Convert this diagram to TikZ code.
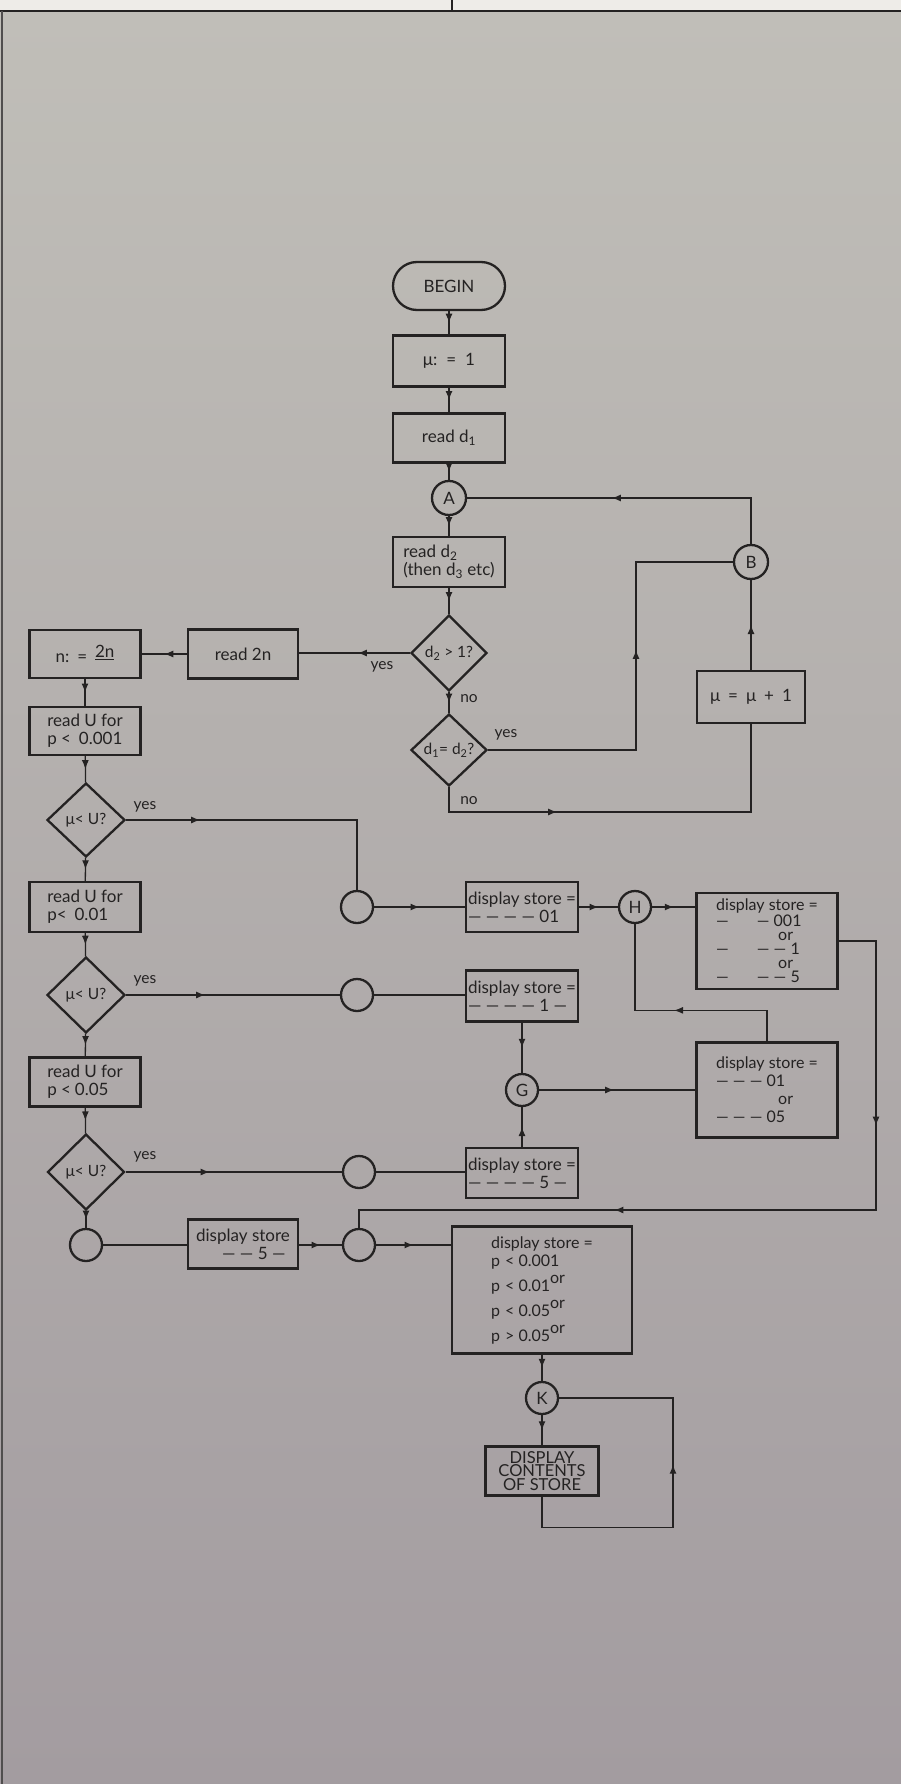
\documentclass[tikz,border=0pt]{standalone}
\usepackage{fontspec}
\setmainfont{Lato}
\usetikzlibrary{shapes.geometric,arrows.meta,decorations.markings}
\definecolor{ink}{RGB}{36,34,34}
\definecolor{bgtop}{RGB}{192,190,184}
\definecolor{bgbot}{RGB}{163,156,160}
\definecolor{paper}{RGB}{238,236,232}
\newcommand{\dsh}{—}
\begin{document}
\begin{tikzpicture}[x=1pt,y=-1pt,
  every node/.style={text=ink, font=\fontsize{17}{18}\selectfont},
  box/.style={draw=ink, line width=2.3pt, rectangle, inner sep=1.5pt},
  dia/.style={draw=ink, line width=2.3pt, diamond, aspect=1, inner sep=0pt, font=\fontsize{15.5}{16}\selectfont},
  conn/.style={draw=ink, line width=2.3pt, circle, inner sep=0pt, minimum size=32pt},
  wire/.style={ink, line width=1.3pt},
  marr/.style={postaction={decorate,decoration={markings,mark=at position #1 with {\arrow{Latex[length=9pt,width=7pt]}}}}},
  lbl/.style={font=\fontsize{15.5}{16}\selectfont, inner sep=0pt}
]
% background / frame
\useasboundingbox (0,0) rectangle (901,1784);
\fill[paper] (0,0) rectangle (901,11);
\shade[top color=bgtop, bottom color=bgbot] (0,11) rectangle (901,1784);
\draw[ink, line width=1.6pt] (0,11) -- (901,11);
\draw[ink!80, line width=1.2pt] (2,11) -- (2,1784);
\draw[ink, line width=1.2pt] (452,0) -- (452,11);

% main column
\node[box, rounded corners=24pt, minimum width=112pt, minimum height=48pt] (begin) at (449,286) {BEGIN};
\node[box, minimum width=112pt, minimum height=51pt] (mu1) at (449,361) {μ:\hspace{9pt}=\hspace{9pt}1};
\node[box, minimum width=112pt, minimum height=49pt] (rd1) at (449,438) {read d\textsubscript{1}};
\node[conn, minimum size=34pt] (A) at (449,498) {A};
\node[box, minimum width=112pt, minimum height=50pt, align=left] (rd2) at (449,562) {read d\textsubscript{2}\\(then d\textsubscript{3} etc)};
\node[dia, minimum width=76pt, minimum height=76pt] (dgt) at (449,653) {d\textsubscript{2} > 1?};
\node[dia, minimum width=76pt, minimum height=72pt] (deq) at (449,750) {d\textsubscript{1}= d\textsubscript{2}?};
\node[conn, minimum size=34pt] (B) at (751,562) {B};
\node[box, minimum width=108pt, minimum height=52pt] (muinc) at (751,697) {μ\hspace{8pt}=\hspace{8pt}μ\hspace{8pt}+\hspace{8pt}1};

% left column
\node[box, minimum width=110pt, minimum height=49pt] (r2n) at (243,654) {read 2n};
\node[box, minimum width=111pt, minimum height=48pt] (nb) at (85,654) {n:\hspace{8pt}=\hspace{8pt}\raisebox{5pt}{\underline{2n}}};
\node[box, minimum width=111pt, minimum height=48pt, align=left] (ru1) at (85,731) {read U for\\p <\hspace{8pt}0.001};
\node[dia, minimum width=78pt, minimum height=74pt] (m1) at (86,820) {μ< U?};
\node[box, minimum width=111pt, minimum height=50pt, align=left] (ru2) at (85,907) {read U for\\p<\hspace{8pt}0.01};
\node[dia, minimum width=78pt, minimum height=76pt] (m2) at (86,995) {μ< U?};
\node[box, minimum width=111pt, minimum height=49pt, align=left] (ru3) at (85,1082) {read U for\\p <\hspace{4pt}0.05};
\node[dia, minimum width=77pt, minimum height=76pt] (m3) at (86,1172) {μ< U?};
\node[conn] (c5) at (86,1245) {};
\node[box, minimum width=110pt, minimum height=49pt, align=left] (ds5b) at (243,1244) {display store\\\hspace*{26pt}\dsh\ \dsh\ 5 \dsh};
\node[conn] (c4) at (359,1245) {};
\node[conn] (c1) at (357,907) {};
\node[conn] (c2) at (357,995) {};
\node[conn] (c3) at (359,1172) {};

% middle column
\node[box, minimum width=112pt, minimum height=50pt, align=left] (ds01) at (522,907) {display store =\\\dsh\ \dsh\ \dsh\ \dsh\ 01};
\node[conn] (H) at (635,907) {H};
\node[box, minimum width=112pt, minimum height=51pt, align=left] (ds1) at (522,996) {display store =\\\dsh\ \dsh\ \dsh\ \dsh\ 1 \dsh};
\node[conn] (G) at (522,1090) {G};
\node[box, minimum width=112pt, minimum height=50pt, align=left] (ds5) at (522,1173) {display store =\\\dsh\ \dsh\ \dsh\ \dsh\ 5 \dsh};

% right column
\node[box, minimum width=141pt, minimum height=96pt, align=left, font=\fontsize{16}{14.2}\selectfont] (ds001) at (767,941)
  {display store =\\\dsh\hspace{28pt}\dsh\ 001\\\hspace{62pt}or\\\dsh\hspace{28pt}\dsh\ \dsh\ 1\\\hspace{62pt}or\\\dsh\hspace{28pt}\dsh\ \dsh\ 5};
\node[box, minimum width=141pt, minimum height=95pt, align=left, font=\fontsize{16}{18}\selectfont] (ds0105) at (767,1090)
  {display store =\\\dsh\ \dsh\ \dsh\ 01\\\hspace{62pt}or\\\dsh\ \dsh\ \dsh\ 05};

% bottom
\node[box, minimum width=180pt, minimum height=127pt, align=left, font=\fontsize{16}{17}\selectfont] (fin) at (542,1290)
  {display store =\\[1pt]p\hspace{5pt}< 0.001\\[5pt]p\hspace{5pt}< 0.01\raisebox{8pt}{or}\\[5pt]p\hspace{5pt}< 0.05\raisebox{8pt}{or}\\[5pt]p\hspace{5pt}> 0.05\raisebox{8pt}{or}};
\node[conn] (K) at (542,1398) {K};
\node[box, minimum width=113pt, minimum height=49pt, inner sep=1pt, align=center, font=\fontsize{16.5}{13.5}\selectfont] (dcs) at (542,1471) {DISPLAY\\CONTENTS\\OF STORE};

% corner coordinates
\coordinate (yc) at (636,562);
\coordinate (nc) at (751,812);
\coordinate (rc) at (876,1210);
\coordinate (kc) at (673,1398);

% connectors: main column
\draw[wire, marr=0.5] (begin) -- (mu1);
\draw[wire, marr=0.5] (mu1) -- (rd1);
\draw[wire, marr=0.5] (rd1) -- (A);
\draw[wire, marr=0.5] (A) -- (rd2);
\draw[wire, marr=0.5] (rd2) -- (dgt);
\draw[wire, marr=0.5] (dgt) -- (deq);
\draw[wire, marr=248pt] (deq.east) -| (yc) -- (B.west);
\draw[wire, marr=133pt] (deq.south) |- (nc) -- (muinc.south);
\draw[wire, marr=0.5] (muinc) -- (B);
\draw[wire, marr=185pt] (B.north) |- (A.east);

% connectors: left column
\draw[wire, marr=0.47] (dgt.west) -- (dgt.west -| r2n.east);
\draw[wire, marr=0.5] (r2n.west) -- (r2n.west -| nb.east);
\draw[wire, marr=0.5] (nb) -- (ru1);
\draw[wire, marr=0.5] (ru1) -- (m1);
\draw[wire, marr=0.5] (m1) -- (ru2);
\draw[wire, marr=0.5] (ru2) -- (m2);
\draw[wire, marr=0.5] (m2) -- (ru3);
\draw[wire, marr=0.5] (ru3) -- (m3);
\draw[wire, marr=0.5] (m3) -- (c5);
\draw[wire] (c5.east) -- (c5.east -| ds5b.west);
\draw[wire, marr=0.5] (ds5b.east |- c4.west) -- (c4.west);
\draw[wire, marr=0.5] (c4.east) -- (c4.east -| fin.west);

\draw[wire, marr=74pt] (m1.east) -| (c1.north);
\draw[wire, marr=0.5] (c1.east) -- (c1.east -| ds01.west);
\draw[wire, marr=79pt] (m2.east) -- (c2.west);
\draw[wire] (c2.east) -- (c2.east -| ds1.west);
\draw[wire, marr=84pt] (m3.east) -- (c3.west);
\draw[wire] (c3.east) -- (c3.east -| ds5.west);

% connectors: middle / right
\draw[wire, marr=0.5] (ds1) -- (G);
\draw[wire, marr=0.5] (ds5) -- (G);
\draw[wire, marr=75pt] (G.east) -- (G.east -| ds0105.west);
\draw[wire, marr=0.5] (ds01.east) -- (H.west);
\draw[wire, marr=0.5] (H.east) -- (H.east -| ds001.west);
\draw[wire, marr=124pt] (ds0105.north) -- ++(0,-31) -| (H.south);
\draw[wire, marr=222pt, marr=568pt] (ds001.east) -| (rc) -| (c4.north);

% bottom
\draw[wire, marr=0.5] (fin) -- (K);
\draw[wire, marr=0.5] (K) -- (dcs);
\draw[wire, marr=225pt] (dcs.south) -- ++(0,31) -| (kc) -- (K.east);

% labels
\node[lbl] (l1) at (382,667) {yes};
\node[lbl] (l2) at (469,699) {no};
\node[lbl] (l3) at (506,735) {yes};
\node[lbl] (l4) at (469,801) {no};
\node[lbl] (l5) at (145,807) {yes};
\node[lbl] (l6) at (145,981) {yes};
\node[lbl] (l7) at (145,1157) {yes};
\end{tikzpicture}
\end{document}
